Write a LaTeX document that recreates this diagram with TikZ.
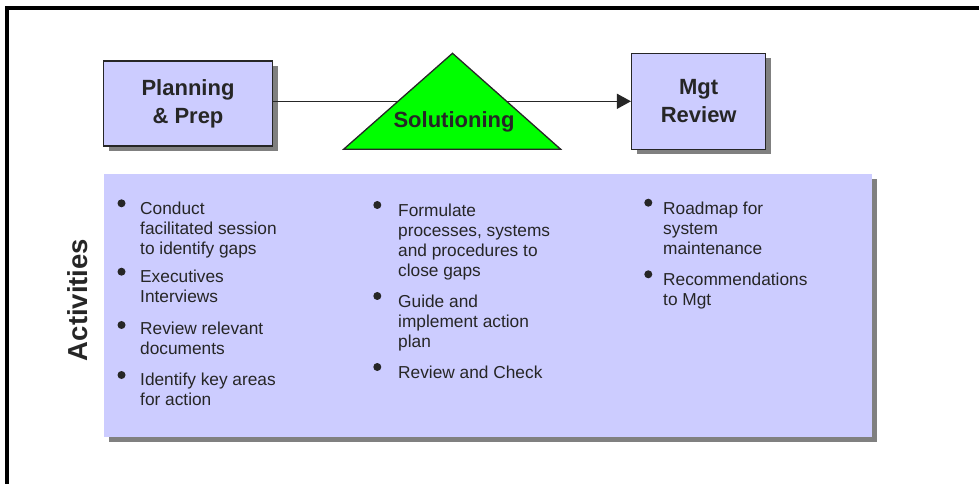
\documentclass[tikz,border=0pt]{standalone}
\usepackage{fontspec}
\setmainfont{Liberation Sans}
\usetikzlibrary{arrows.meta,shadows,calc}
\definecolor{boxblue}{RGB}{204,204,255}
\definecolor{solgreen}{RGB}{0,255,0}
\definecolor{shadowgray}{RGB}{128,128,128}
\definecolor{textgray}{RGB}{38,38,38}
\tikzset{
  phase/.style={draw=black!85,line width=1.5bp,fill=boxblue,inner sep=0pt,
    align=center,text=textgray,font=\fontsize{22bp}{28bp}\selectfont\bfseries,
    general shadow={fill=shadowgray,shadow xshift=5bp,shadow yshift=-5bp}},
  itemtext/.style={anchor=north west,inner sep=0pt,align=left,text=textgray,
    font=\fontsize{17.3bp}{20bp}\selectfont},
}
\begin{document}
\begin{tikzpicture}[x=1bp,y=-1bp]
\useasboundingbox (0,0) rectangle (979,484);
% draw frame
\draw[line width=3.5bp] (7,484) -- (7,8) -- (979,8);
% draw activities panel
\node[fill=boxblue,inner sep=0pt,minimum width=768bp,minimum height=263bp,
  general shadow={fill=shadowgray,shadow xshift=5bp,shadow yshift=-5bp}] (panel) at (488,305.5) {};
% draw phases
\node[phase,minimum width=169bp,minimum height=85bp] (plan) at (188,103.4) {Planning\\\& Prep};
\node[phase,minimum width=134bp,minimum height=96bp] (mgt) at (698.7,101.3) {Mgt\\Review};
\draw[line width=1.3bp,black!85,-{Triangle[length=14bp,width=15bp]}] (plan.east |- mgt.west) -- (mgt.west);
% draw solutioning triangle
\coordinate (apex) at (452.5,53.3);
\coordinate (left) at (343.6,149.3);
\coordinate (right) at (560.7,149.3);
\filldraw[fill=solgreen,draw=black!85,line width=1.3bp] (apex) -- (left) -- (right) -- cycle;
\node[anchor=base,text=textgray,font=\fontsize{22bp}{28bp}\selectfont\bfseries] (sol) at (454,127.3) {Solutioning};
% draw side label
\node[rotate=90,anchor=base,text=textgray,font=\fontsize{27.5bp}{32bp}\selectfont\bfseries] (act) at (87,300) {Activities};
% draw bullets
\foreach \x/\y in {121.5/203.3,121.5/271.7,121.5/325,121.5/375,377.3/205,377.3/296,377.3/367,648.3/202.7,648.3/274.3}
  \fill[textgray] (\x,\y) circle (4bp);
% draw items
\node[itemtext] (conduct) at (140,202) {Conduct\\facilitated session\\to identify gaps};
\node[itemtext] (interview) at (140,270) {Executives\\Interviews};
\node[itemtext] (docs) at (140,322) {Review relevant\\documents};
\node[itemtext] (areas) at (140,373) {Identify key areas\\for action};
\node[itemtext] (formulate) at (398,204) {Formulate\\processes, systems\\and procedures to\\close gaps};
\node[itemtext] (guide) at (398,295) {Guide and\\implement action\\plan};
\node[itemtext] (check) at (398,366) {Review and Check};
\node[itemtext] (roadmap) at (663,202) {Roadmap for\\system\\maintenance};
\node[itemtext] (recommend) at (663,273) {Recommendations\\to Mgt};
\end{tikzpicture}
\end{document}
